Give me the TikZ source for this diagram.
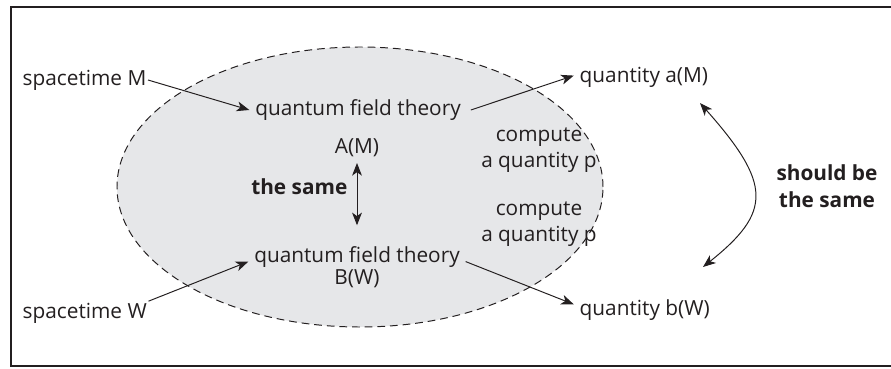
\documentclass[tikz,border=0pt]{standalone}
\usepackage{fontspec}
\setmainfont{Open Sans}
\usepackage{tikz}
\usetikzlibrary{arrows.meta,positioning,calc}
\definecolor{ink}{RGB}{35,31,32}
\definecolor{blob}{RGB}{230,231,233}

\begin{document}
\begin{tikzpicture}[every node/.style={text=ink,inner sep=1pt,font=\fontsize{14.8}{17}\selectfont},
  link/.style={-{Stealth[length=9pt,width=7pt,inset=2.5pt]},draw=ink,line width=0.7pt},
  twin/.style={{Stealth[length=9pt,width=7pt,inset=2.5pt]}-{Stealth[length=9pt,width=7pt,inset=2.5pt]},draw=ink,line width=0.7pt}]
\useasboundingbox (0,0) rectangle (22.275,9.2);
\draw[ink,line width=1.2pt] (0.275,9.025) rectangle (22.5,0.05);
\draw[ink,fill=blob,line width=0.7pt,dash pattern=on 5.5pt off 3.5pt] (9.0,4.525) ellipse [x radius=6.075,y radius=3.5];
\node[anchor=west] (spM) at (0.525,7.2) {spacetime M};
\node (qftA) at (8.95,6.45) {quantum field theory};
\node (AM) at (8.925,5.5) {A(M)};
\node[anchor=east,font=\fontsize{14.8}{17}\selectfont\bfseries] (same) at (8.725,4.525) {the same};
\node[align=center,font=\fontsize{14.8}{15.6}\selectfont] (qftB) at (8.925,2.52) {quantum field theory\\B(W)};
\node[anchor=west] (spW) at (0.525,1.375) {spacetime W};
\node[anchor=west] (qa) at (14.45,7.275) {quantity a(M)};
\node[anchor=west] (qb) at (14.45,1.45) {quantity b(W)};
\node[align=center,font=\fontsize{14.8}{19}\selectfont] (cp1) at (13.475,5.45) {compute\\a quantity p};
\node[align=center,font=\fontsize{14.8}{19}\selectfont] (cp2) at (13.475,3.6) {compute\\a quantity p};
\node[align=center,font=\fontsize{14.8}{19}\selectfont\bfseries] (should) at (20.675,4.55) {should be\\the same};
\coordinate (ta) at (17.5,6.625);
\coordinate (tb) at (17.575,2.525);
\draw[link] (spM.east) -- ([xshift=-3pt]qftA.west);
\draw[link] (spW.north east) -- ([xshift=-3pt,yshift=4pt]qftB.west);
\draw[link] ([xshift=6pt]qftA.east) -- ([xshift=-3pt,yshift=1pt]qa.west);
\draw[link] ([xshift=3pt,yshift=4pt]qftB.east) -- ([xshift=-3pt,yshift=4pt]qb.west);
\draw[twin] ([yshift=-3pt]AM.south) -- ([yshift=14pt]qftB.north -| AM.south);
\draw[twin] (ta) .. controls (19.3,4.6) and (19.3,3.9) .. (tb);
\end{tikzpicture}
\end{document}
